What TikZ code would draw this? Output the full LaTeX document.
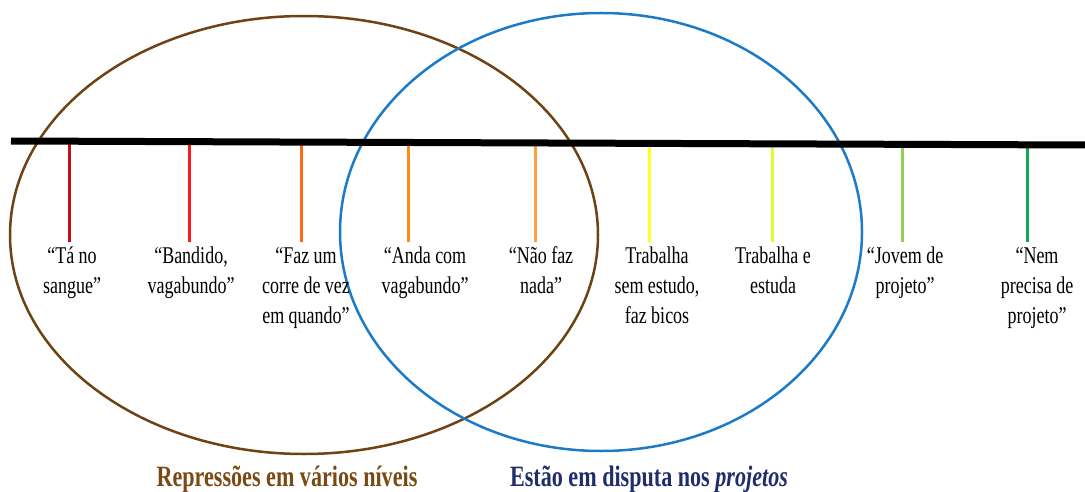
\documentclass[tikz,border=0pt]{standalone}
\usepackage{fontspec}
\setmainfont{Liberation Serif}[FakeStretch=0.75]
\definecolor{brownring}{HTML}{6E4314}
\definecolor{bluering}{HTML}{1C7BC8}
\definecolor{brownlabel}{HTML}{7A4A14}
\definecolor{bluelabel}{HTML}{1F2D6B}
\definecolor{t1}{HTML}{C0101A}
\definecolor{t2}{HTML}{FF1A1A}
\definecolor{t3}{HTML}{FF6A10}
\definecolor{t4}{HTML}{FF8A1C}
\definecolor{t5}{HTML}{FFA040}
\definecolor{t6}{HTML}{FFFF20}
\definecolor{t7}{HTML}{D8FF30}
\definecolor{t8}{HTML}{92D050}
\definecolor{t9}{HTML}{10A850}
\newcommand{\firstline}{\rule{0pt}{21pt}}
\begin{document}
\begin{tikzpicture}[x=1pt, y=-1pt,
	saying/.style={align=center, inner sep=0pt, anchor=north,
		font=\fontsize{24}{30}\selectfont},
	tickline/.style={line width=3pt},
	caption/.style={anchor=base, font=\fontsize{29.5}{34}\selectfont\bfseries}]
	\useasboundingbox (0,0) rectangle (1085,492);
	
	% the two groups
	\draw[brownring, line width=2.5pt] (304,235) ellipse [x radius=294pt, y radius=219pt];
	\draw[bluering, line width=2.5pt] (601,232) ellipse [x radius=261pt, y radius=219pt];
	
	% marks and what is said
	\foreach \n/\tx/\lx/\col/\txt in {
		1/69/72/t1/{“Tá no\\sangue”},
		2/189/191/t2/{“Bandido,\\vagabundo”},
		3/301/306/t3/{“Faz um\\corre de vez\\em quando”},
		4/408/425/t4/{“Anda com\\vagabundo”},
		5/535/541/t5/{“Não faz\\nada”},
		6/649/657/t6/{Trabalha\\sem estudo,\\faz bicos},
		7/772/773/t7/{Trabalha e\\estuda},
		8/902/905/t8/{“Jovem de\\projeto”},
		9/1027/1037/t9/{“Nem\\precisa de\\projeto”}}{
		\node[saying] (s\n) at (\lx,242) {\firstline\txt};
		\coordinate (c\n) at (\tx,144);
		\draw[tickline, \col] (c\n) -- (c\n |- s\n.north);
	}
	
	% the line
	\coordinate (lineL) at (11,141);
	\coordinate (lineR) at (1085,145);
	\draw[line width=7pt] (lineL) -- (lineR);
	
	\node[caption, brownlabel] (rep) at (287,486) {Repressões em vários níveis};
	\node[caption, bluelabel] (est) at (649,486) {Estão em disputa nos \textit{projetos}};
\end{tikzpicture}
\end{document}
